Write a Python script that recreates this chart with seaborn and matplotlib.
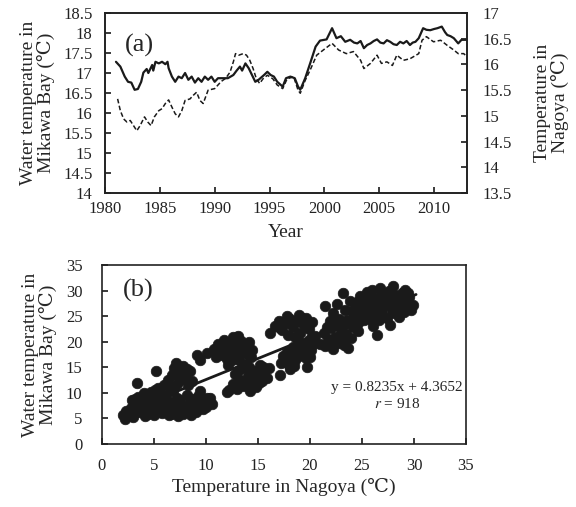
import matplotlib
matplotlib.use("Agg")
import matplotlib.pyplot as plt
import seaborn as sns
import pandas as pd
import numpy as np
from matplotlib.ticker import FixedLocator, FixedFormatter

# ---------------- data: panel (a) ----------------
bay_years = [1981.0, 1981.4, 1981.8, 1982.1, 1982.4, 1982.7, 1983.0, 1983.3, 1983.5, 1983.8,
             1983.95, 1984.3, 1984.4, 1984.6, 1984.9, 1985.2, 1985.5, 1985.7, 1985.8, 1986.1,
             1986.4, 1986.7, 1987.0, 1987.3, 1987.6, 1987.9, 1988.2, 1988.5, 1988.8, 1989.1,
             1989.4, 1989.7, 1990.0, 1990.3, 1990.8, 1991.2, 1991.7, 1992.0, 1992.3, 1992.5,
             1992.8, 1993.1, 1993.4, 1993.7, 1994.0, 1994.5, 1994.8, 1995.1, 1995.4, 1995.7,
             1996.2, 1996.5, 1996.9, 1997.3, 1997.6, 1997.8, 1998.25, 1998.7, 1999.2, 1999.6,
             2000.2, 2000.7, 2001.1, 2001.5, 2001.9, 2002.35, 2002.7, 2003.0, 2003.3, 2003.6,
             2003.9, 2004.2, 2004.5, 2004.8, 2005.1, 2005.4, 2005.7, 2006.0, 2006.3, 2006.6,
             2006.9, 2007.2, 2007.5, 2007.8, 2008.05, 2008.3, 2008.6, 2009.0, 2009.3, 2009.65,
             2010.0, 2010.3, 2010.7, 2011.0, 2011.2, 2011.5, 2011.8, 2012.2, 2012.5, 2013.0]
bay_temp = [17.28, 17.16, 16.91, 16.78, 16.76, 16.58, 16.60, 16.78, 17.01, 17.10,
            17.00, 17.20, 17.06, 17.28, 17.24, 17.28, 17.22, 17.28, 17.12, 16.91,
            16.78, 16.91, 16.87, 17.00, 16.83, 16.91, 16.76, 16.87, 16.78, 16.91,
            16.83, 16.91, 16.78, 16.87, 16.87, 16.87, 16.95, 17.06, 17.16, 17.06,
            17.24, 17.12, 16.95, 16.78, 16.83, 16.95, 17.03, 16.95, 16.91, 16.78,
            16.66, 16.87, 16.91, 16.87, 16.66, 16.58, 16.87, 17.24, 17.66, 17.81,
            17.84, 18.12, 17.87, 17.92, 17.78, 17.83, 17.76, 17.74, 17.80, 17.62,
            17.70, 17.74, 17.80, 17.84, 17.76, 17.74, 17.82, 17.78, 17.72, 17.70,
            17.78, 17.74, 17.80, 17.70, 17.76, 17.78, 17.87, 18.12, 18.08, 18.07,
            18.10, 18.12, 18.16, 18.02, 17.95, 17.92, 17.87, 17.74, 17.83, 17.83]

nagoya_years = [1981.15, 1981.4, 1981.7, 1982.0, 1982.3, 1982.6, 1982.9, 1983.2, 1983.6, 1983.9,
                1984.2, 1984.5, 1984.9, 1985.2, 1985.5, 1985.8, 1986.1, 1986.4, 1986.7, 1987.0,
                1987.3, 1987.75, 1988.05, 1988.35, 1988.65, 1988.95, 1989.4, 1990.0, 1990.3, 1990.6,
                1991.0, 1991.4, 1991.7, 1991.9, 1992.2, 1992.6, 1992.9, 1993.2, 1993.5, 1993.8,
                1994.1, 1994.4, 1994.8, 1995.3, 1995.7, 1996.2, 1996.6, 1997.2, 1997.6, 1997.8,
                1998.25, 1998.7, 1999.3, 1999.9, 2000.7, 2001.3, 2002.0, 2002.65, 2003.3, 2003.6,
                2004.2, 2004.8, 2005.2, 2005.7, 2006.2, 2006.6, 2007.2, 2007.8, 2008.6, 2008.9,
                2009.3, 2009.95, 2010.6, 2011.2, 2011.8, 2012.2, 2012.7, 2013.0]
nagoya_temp = [15.33, 15.10, 14.94, 14.88, 14.91, 14.81, 14.71, 14.81, 14.98, 14.88,
               14.81, 14.98, 15.10, 15.14, 15.24, 15.31, 15.17, 15.04, 14.98, 15.10,
               15.30, 15.33, 15.40, 15.46, 15.30, 15.24, 15.50, 15.53, 15.60, 15.67,
               15.73, 15.85, 16.05, 16.21, 16.18, 16.21, 16.18, 16.08, 15.92, 15.72,
               15.63, 15.72, 15.79, 15.72, 15.60, 15.53, 15.72, 15.76, 15.50, 15.44,
               15.69, 15.89, 16.18, 16.28, 16.41, 16.28, 16.21, 16.25, 16.08, 15.92,
               16.02, 16.18, 16.02, 16.05, 15.98, 16.18, 16.08, 16.11, 16.21, 16.47,
               16.54, 16.44, 16.47, 16.37, 16.28, 16.21, 16.21, 16.15]

year_ticks = [1980, 1985, 1990, 1995, 2000, 2005, 2010]
left_ticks = [14, 14.5, 15, 15.5, 16, 16.5, 17, 17.5, 18, 18.5]
left_labels = ["14", "14.5", "15", "15.5", "16", "16.5", "17", "17.5", "18", "18.5"]
right_ticks = [13.5, 14, 14.5, 15, 15.5, 16, 16.5, 17]
right_labels = ["13.5", "14", "14.5", "15", "15.5", "16", "16.5", "17"]

# ---------------- data: panel (b) ----------------
nagoya_x = [
    # Jan/Feb
    2.0, 2.2, 2.3, 2.8, 2.9, 3.1, 3.3, 3.6, 3.8, 4.0, 4.2, 4.3, 4.5, 4.6, 4.8, 5.0, 5.0, 5.2, 5.3, 5.5,
    5.6, 5.8, 5.9, 6.1, 6.2, 6.4, 6.5, 6.7, 6.8, 7.0, 7.2, 4.1, 3.5, 5.4, 6.0, 6.6, 4.7, 5.7, 4.9, 3.9,
    3.4, 5.2, 3.0, 4.4, 6.3, 7.4, 8.6, 9.8, 5.1, 4.0, 3.2,
    # Dec
    6.3, 6.7, 7.1, 7.4, 7.5, 7.8, 8.0, 8.2, 8.5, 8.7, 7.2, 6.9, 8.3, 7.7,
    # Mar
    6.6, 7.0, 7.3, 7.6, 7.8, 8.1, 8.4, 8.8, 9.0, 9.4, 9.5, 9.7, 10.1, 10.4, 10.6, 9.2, 8.6, 10.0, 8.2, 7.5, 6.9,
    # Nov
    9.1, 9.4, 10.1, 10.8, 11.2, 11.5, 11.7, 11.9, 12.1, 12.2, 12.4, 12.6, 12.8, 13.0, 13.2, 13.4, 13.6, 13.9,
    14.1, 14.4, 12.0, 11.4, 13.1, 11.0, 11.6, 12.3, 12.9, 13.3, 13.7, 12.5, 14.3,
    # Apr
    12.0, 12.6, 12.8, 13.0, 13.3, 13.5, 13.7, 14.0, 14.2, 14.4, 14.6, 14.8, 15.0, 15.2, 15.4, 15.6, 15.9,
    16.1, 12.2, 13.8, 13.6, 14.5, 15.1, 13.1, 14.1, 15.5,
    # May
    17.1, 17.2, 17.4, 17.6, 17.8, 18.0, 18.2, 18.4, 18.6, 18.8, 19.0, 19.2, 19.4, 19.6, 19.7, 19.9, 20.1,
    20.3, 18.1, 20.0, 17.9, 18.9, 19.5, 18.5, 20.2,
    # Oct
    16.2, 16.6, 17.0, 17.3, 17.6, 17.9, 18.1, 18.4, 18.7, 19.0, 19.3, 19.6, 19.9, 20.2, 20.5, 17.8, 18.9,
    17.1, 18.2, 19.2, 19.7, 18.6,
    # Jun
    21.0, 21.3, 21.4, 21.7, 22.0, 22.2, 22.4, 22.7, 23.0, 23.2, 23.5, 23.7, 23.9, 24.1, 22.6, 21.6,
    22.0, 23.3, 24.6,
    # Sep
    21.4, 22.2, 22.6, 23.2, 23.4, 23.8, 24.2, 24.4, 24.8, 25.1, 25.4, 25.8, 26.0, 22.8, 23.4, 21.9,
    # Jul/Aug
    24.6, 25.0, 25.5, 25.8, 26.1, 26.4, 26.4, 26.7, 26.9, 27.2, 27.5, 27.7, 27.9, 28.0, 28.3, 28.6, 28.8,
    29.1, 29.3, 29.5, 29.9, 27.0, 26.2, 28.5, 25.6, 27.4, 29.0,
    24.0, 24.5, 25.2, 25.9, 26.5, 26.8, 27.3, 27.6, 28.2, 28.4, 28.9, 29.4, 27.8, 26.0, 25.3, 24.7,
    23.6, 29.7, 28.1, 26.6,
]
bay_y = [
    5.6, 4.8, 6.4, 7.1, 8.7, 6.0, 7.5, 6.2, 8.0, 6.8, 7.6, 9.0, 6.3, 8.4, 7.2, 5.6, 9.3, 6.7, 8.0, 7.4,
    10.0, 6.1, 8.7, 7.0, 9.5, 5.7, 8.2, 6.6, 10.3, 7.6, 9.0, 5.4, 9.2, 11.0, 11.5, 11.0, 10.2, 6.8, 7.8, 7.0,
    11.9, 14.2, 5.2, 5.8, 6.4, 6.6, 5.6, 8.0, 10.6, 9.9, 8.8,
    12.5, 13.4, 15.8, 14.0, 12.6, 15.2, 13.0, 14.6, 14.2, 12.4, 11.8, 14.8, 11.6, 13.8,
    5.8, 6.5, 5.5, 7.2, 5.8, 6.6, 7.8, 7.4, 6.2, 10.3, 8.4, 6.8, 9.0, 9.0, 7.9, 9.4, 8.8, 7.2, 9.6, 8.6, 8.0,
    17.4, 16.5, 17.7, 18.5, 19.6, 17.5, 20.4, 18.6, 15.5, 19.8, 17.2, 20.9, 18.2, 19.4, 16.4, 20.2, 18.8, 17.6,
    19.9, 18.4, 16.6, 18.8, 21.2, 17.0, 19.2, 18.0, 20.2, 17.8, 19.6, 16.4, 17.0,
    10.2, 11.8, 13.6, 10.8, 12.6, 14.8, 11.4, 13.2, 10.4, 12.2, 14.2, 11.2, 13.4, 15.4, 12.4, 14.0, 13.0,
    14.8, 10.6, 15.6, 12.0, 13.0, 12.0, 14.2, 15.0, 15.0,
    13.5, 15.8, 17.2, 16.2, 18.0, 15.4, 17.0, 19.0, 16.4, 18.2, 20.0, 17.4, 19.0, 16.8, 15.1, 20.3, 18.4,
    19.6, 14.6, 17.0, 16.8, 17.2, 18.0, 15.2, 21.0,
    21.8, 23.0, 24.0, 22.2, 23.6, 21.4, 24.4, 22.8, 24.0, 21.8, 23.4, 24.6, 22.4, 23.8, 21.2, 25.0, 25.2,
    22.6, 23.4, 24.6, 22.9, 21.0,
    19.6, 21.8, 19.1, 20.6, 22.6, 18.6, 21.0, 19.8, 22.0, 20.4, 21.6, 18.7, 20.8, 22.8, 23.2, 22.8,
    20.0, 19.4, 22.0,
    26.9, 25.6, 27.4, 29.5, 26.2, 28.0, 24.8, 27.2, 29.0, 25.8, 27.8, 24.4, 26.6, 24.4, 23.4, 24.0,
    23.6, 28.6, 29.8, 27.0, 23.0, 21.3, 28.4, 30.5, 25.4, 27.6, 29.2, 23.3, 26.2, 30.8, 28.0, 24.9, 29.6,
    30.1, 27.0, 28.8, 27.2, 26.8, 25.6, 26.6, 26.0, 24.6, 25.8,
    26.0, 27.8, 24.2, 28.8, 27.4, 29.4, 28.6, 30.0, 29.2, 27.2, 28.2, 29.6, 27.4, 30.2, 26.8, 25.4,
    24.2, 26.2, 25.6, 24.2,
]
reg_slope = 0.8235
reg_intercept = 4.3652
reg_x = [2.0, 30.2]
temp_ticks = [0, 5, 10, 15, 20, 25, 30, 35]

# ---------------- styling ----------------
sns.set_theme(style="ticks")
plt.rcParams["font.family"] = ["Liberation Serif", "DejaVu Serif"]
plt.rcParams["mathtext.fontset"] = "stix"
plt.rcParams["axes.edgecolor"] = "#222222"
plt.rcParams["axes.linewidth"] = 1.2
plt.rcParams["xtick.direction"] = "in"
plt.rcParams["ytick.direction"] = "in"
plt.rcParams["xtick.major.size"] = 4
plt.rcParams["ytick.major.size"] = 4
plt.rcParams["xtick.color"] = "#222222"
plt.rcParams["ytick.color"] = "#222222"

TICK_FS = 12
LABEL_FS = 14

fig = plt.figure(figsize=(5.76, 5.07), dpi=100)
ax1 = fig.add_axes([105 / 576, 1 - 193 / 507, 362 / 576, 180 / 507])
ax2 = fig.add_axes([102 / 576, 1 - 444 / 507, 364 / 576, 179 / 507])

# panel (a)
df_bay = pd.DataFrame({"year": bay_years, "temp": bay_temp})
df_ngy = pd.DataFrame({"year": nagoya_years, "temp": nagoya_temp})
sns.lineplot(data=df_bay, x="year", y="temp", ax=ax1, color="#1a1a1a", lw=1.6)
ax1r = ax1.twinx()
sns.lineplot(data=df_ngy, x="year", y="temp", ax=ax1r, color="#1a1a1a", lw=1.1,
             linestyle=(0, (3, 1.6)))

ax1.set_xlim(1980, 2013)
ax1.set_ylim(14, 18.5)
ax1r.set_ylim(13.5, 17)
ax1.xaxis.set_major_locator(FixedLocator(year_ticks))
ax1.yaxis.set_major_locator(FixedLocator(left_ticks))
ax1.yaxis.set_major_formatter(FixedFormatter(left_labels))
ax1r.yaxis.set_major_locator(FixedLocator(right_ticks))
ax1r.yaxis.set_major_formatter(FixedFormatter(right_labels))
ax1.tick_params(axis="x", labelsize=TICK_FS, pad=6)
ax1.tick_params(axis="y", labelsize=TICK_FS, pad=9)
ax1r.tick_params(labelsize=TICK_FS, direction="in", pad=11)
ax1.set_xlabel("Year", fontsize=LABEL_FS, labelpad=5)
ax1.set_ylabel("Water temperature in\nMikawa Bay (\u2103)", fontsize=LABEL_FS, labelpad=6,
               linespacing=1.0)
ax1r.set_ylabel("Temperature in\nNagoya (\u2103)", fontsize=LABEL_FS, labelpad=16,
                linespacing=1.0)
ax1.text(0.055, 0.82, "(a)", transform=ax1.transAxes, fontsize=19, va="center", ha="left")
for sp in ax1r.spines.values():
    sp.set_linewidth(1.2)
    sp.set_color("#222222")

# panel (b)
df_sc = pd.DataFrame({"nagoya": nagoya_x, "bay": bay_y})
sns.scatterplot(data=df_sc, x="nagoya", y="bay", ax=ax2, color="#1a1a1a", s=58,
                edgecolor="#1a1a1a", linewidth=0.5, zorder=2)
reg_y = [reg_slope * v + reg_intercept for v in reg_x]
sns.lineplot(x=reg_x, y=reg_y, ax=ax2, color="#1a1a1a", lw=2.0, zorder=3)
ax2.set_xlim(0, 35)
ax2.set_ylim(0, 35)
ax2.xaxis.set_major_locator(FixedLocator(temp_ticks))
ax2.yaxis.set_major_locator(FixedLocator(temp_ticks))
ax2.tick_params(axis="x", labelsize=TICK_FS, pad=10)
ax2.tick_params(axis="y", labelsize=TICK_FS, pad=14)
ax2.set_xlabel("Temperature in Nagoya (\u2103)", fontsize=LABEL_FS, labelpad=3)
ax2.set_ylabel("Water temperature in\nMikawa Bay (\u2103)", fontsize=LABEL_FS, labelpad=6,
               linespacing=1.0)
ax2.text(0.058, 0.86, "(b)", transform=ax2.transAxes, fontsize=19, va="center", ha="left")
ax2.text(0.81, 0.318, "y = 0.8235x + 4.3652", transform=ax2.transAxes, fontsize=11,
         ha="center", va="center")
ax2.text(0.81, 0.223, "$r$ = 918", transform=ax2.transAxes, fontsize=11,
         ha="center", va="center")

for ax in (ax1, ax2):
    sns.despine(ax=ax, top=False, right=False)

fig.savefig("out.png", dpi=100)
